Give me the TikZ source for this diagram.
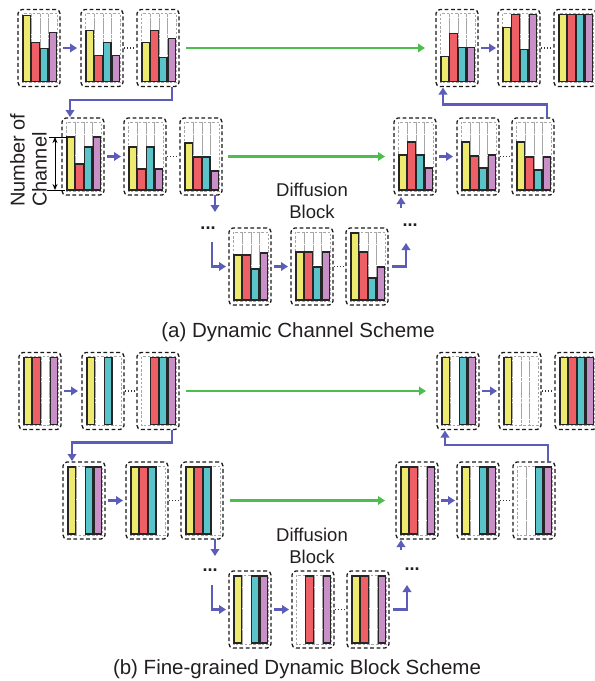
\documentclass[tikz,border=0pt]{standalone}
\usepackage{fontspec}
\setmainfont{Liberation Sans}
\usetikzlibrary{arrows.meta,calc}
\definecolor{cY}{HTML}{EEEA70}
\definecolor{cR}{HTML}{EE6066}
\definecolor{cC}{HTML}{5BC4CB}
\definecolor{cP}{HTML}{C890C6}
\definecolor{cB}{HTML}{5B5DB8}
\definecolor{cG}{HTML}{4DBE4D}
\definecolor{txt}{HTML}{231F20}
\tikzset{
  blkbox/.style={draw=black!90, dash pattern=on 3.8pt off 2.6pt, line width=1.3pt, rounded corners=4pt,
    minimum width=42pt, minimum height=77pt, inner sep=0pt, outer sep=0pt},
  slotst/.style={draw=gray!70, dash pattern=on 2.4pt off 1.8pt, line width=0.8pt},
  barst/.style={draw=black!85, line width=1.1pt},
  barrow/.style={draw=cB, line width=2.8pt, -{Triangle[length=7pt,width=8.5pt]}},
  garrow/.style={draw=cG, line width=2.8pt, -{Triangle[length=7pt,width=8.5pt]}},
  dotconn/.style={draw=black!80, line width=1.1pt, dotted, shorten <=1pt, shorten >=1pt},
  bigdots/.style={font=\fontsize{18}{20}\selectfont\bfseries, text=txt, inner sep=0pt, anchor=base},
  lbl/.style={font=\fontsize{18.5}{22}\selectfont, text=txt, align=center, inner sep=0pt},
  captxt/.style={font=\fontsize{20.5}{24}\selectfont, text=txt, inner sep=0pt, anchor=base},
}
\newcommand\mybar[5]{\ifdim #4pt>0pt \draw[barst,fill=#5] ({#1+#3},{#2+72}) rectangle ({#1+#3+7.6},{#2+72-#4});\fi}
\newcommand\blk[7]{%
  \node[blkbox,anchor=north west] (#1) at (#2,#3) {};
  \foreach \o in {5,13.7,22.4,31.1}{\draw[slotst] ({#2+\o-0.5},{#3+4}) rectangle ({#2+\o+8.2},{#3+73});}
  \mybar{#2}{#3}{5}{#4}{cY}
  \mybar{#2}{#3}{13.7}{#5}{cR}
  \mybar{#2}{#3}{22.4}{#6}{cC}
  \mybar{#2}{#3}{31.1}{#7}{cP}
}
\begin{document}
\begin{tikzpicture}[x=1pt,y=-1pt]
\useasboundingbox (0,0) rectangle (595,681);
% ---------------- (a) ----------------
\blk{a1}{18}{9.5}{66}{39}{33}{49}
\blk{a2}{81}{9.5}{51}{26}{39}{26}
\blk{a3}{137}{9.5}{39}{51}{24}{43}
\blk{a4}{436}{9.5}{25}{48}{34}{34}
\blk{a5}{498}{9.5}{54}{67}{32}{67}
\blk{a6}{554}{9.5}{67}{67}{67}{67}
\blk{a7}{62}{118}{53}{26}{43}{53}
\blk{a8}{124}{118}{43}{21}{43}{21}
\blk{a9}{180}{118}{47}{33}{33}{19}
\blk{a13}{394}{118}{35}{48}{35}{22}
\blk{a14}{457}{118}{48}{34}{22}{35}
\blk{a15}{512}{118}{48}{33}{20}{33}
\blk{a10}{229}{228}{45}{45}{31}{47}
\blk{a11}{291}{228}{48}{48}{33}{48}
\blk{a12}{346}{228}{67}{48}{22}{33}

\draw[barrow, shorten <=3pt, shorten >=4pt] (a1) -- (a2);
\draw[dotconn] (a2) -- (a3);
\draw[garrow, shorten <=7pt, shorten >=11pt] (a3) -- (a4);
\draw[barrow, shorten <=3pt, shorten >=2pt] (a4) -- (a5);
\draw[dotconn] (a5) -- (a6);
\draw[barrow, shorten >=1pt] ($(a3.south west)+(35,0)$) -- ++(0,13.5) -| ($(a7.north west)+(8,0)$);
\draw[barrow, shorten >=1pt] ($(a15.north west)+(35,0)$) -- ++(0,-13.5) -| ($(a4.south west)+(7,0)$);
\draw[barrow, shorten <=3pt, shorten >=3pt] (a7) -- (a8);
\draw[dotconn] (a8) -- (a9);
\draw[garrow, shorten <=6pt, shorten >=9pt] (a9) -- (a13);
\draw[barrow, shorten <=3pt, shorten >=4pt] (a13) -- (a14);
\draw[dotconn] (a14) -- (a15);
\draw[barrow] ($(a9.south west)+(35,0)$) -- ++(0,17);
\node[bigdots] (dA1) at (208,229) {...};
\coordinate (la) at (212,242);
\draw[barrow, shorten >=3pt] (la) |- (a10.west);
\draw[barrow, shorten <=3pt, shorten >=3pt] (a10) -- (a11);
\draw[dotconn] (a11) -- (a12);
\coordinate (ra) at (406,243);
\draw[barrow, shorten <=4pt] (a12.east) -| (ra);
\node[bigdots] (dA2) at (410,226) {...};
\coordinate (ua) at (401,208);
\draw[barrow, shorten >=2pt] (ua) -- (ua |- a13.south);
\node[lbl] (dfa) at (312,201) {Diffusion\\Block};
% number of channel
\coordinate (nc1) at (55,137);
\coordinate (nc2) at (55,190);
\draw[black, line width=0.9pt] (49,137) -- (67,137);
\draw[black, line width=0.9pt] (47,190) -- (65,190);
\draw[black, line width=1pt, {Stealth[length=6pt,width=5pt]}-{Stealth[length=6pt,width=5pt]}] (nc1) -- (nc2);
\node[font=\fontsize{20}{22}\selectfont, text=txt, rotate=90, align=left, inner sep=0pt, anchor=south west] (noc) at (47,207) {Number of\\Channel};
\node[captxt] (capa) at (298,337) {(a) Dynamic Channel Scheme};
% ---------------- (b) ----------------
\blk{b1}{19}{352.5}{67}{67}{0}{67}
\blk{b2}{82}{352.5}{67}{0}{67}{0}
\blk{b3}{137}{352.5}{0}{67}{67}{67}
\blk{b4}{437}{352.5}{67}{0}{67}{67}
\blk{b5}{499}{352.5}{67}{0}{0}{0}
\blk{b6}{555}{352.5}{67}{67}{67}{67}
\blk{b7}{63}{462}{67}{0}{67}{67}
\blk{b8}{126}{462}{67}{67}{67}{0}
\blk{b9}{181}{462}{67}{67}{67}{0}
\blk{b13}{396}{462}{67}{67}{0}{67}
\blk{b14}{457}{462}{67}{0}{67}{67}
\blk{b15}{513}{462}{0}{0}{67}{67}
\blk{b10}{229}{571}{67}{0}{67}{67}
\blk{b11}{292}{571}{0}{67}{0}{67}
\blk{b12}{347}{571}{67}{67}{0}{67}

\draw[barrow, shorten <=3pt, shorten >=4pt] (b1) -- (b2);
\draw[dotconn] (b2) -- (b3);
\draw[garrow, shorten <=7pt, shorten >=11pt] (b3) -- (b4);
\draw[barrow, shorten <=3pt, shorten >=2pt] (b4) -- (b5);
\draw[dotconn] (b5) -- (b6);
\draw[barrow, shorten >=1pt] ($(b3.south west)+(35,0)$) -- ++(0,13) -| ($(b7.north west)+(9,0)$);
\draw[barrow, shorten >=1pt] ($(b15.north west)+(35,0)$) -- ++(0,-17) -| ($(b4.south west)+(8,0)$);
\draw[barrow, shorten <=3pt, shorten >=3pt] (b7) -- (b8);
\draw[dotconn] (b8) -- (b9);
\draw[garrow, shorten <=7pt, shorten >=11pt] (b9) -- (b13);
\draw[barrow, shorten <=3pt, shorten >=2pt] (b13) -- (b14);
\draw[dotconn] (b14) -- (b15);
\draw[barrow] ($(b9.south west)+(34,0)$) -- ++(0,17);
\node[bigdots] (dB1) at (210,571) {...};
\coordinate (lb) at (212,585);
\draw[barrow, shorten >=3pt] (lb) |- (b10.west);
\draw[barrow, shorten <=3pt, shorten >=3pt] (b10) -- (b11);
\draw[dotconn] (b11) -- (b12);
\coordinate (rb) at (407,585);
\draw[barrow, shorten <=4pt] (b12.east) -| (rb);
\node[bigdots] (dB2) at (412,570) {...};
\coordinate (ub) at (401,550);
\draw[barrow, shorten >=1pt] (ub) -- (ub |- b13.south);
\node[lbl] (dfb) at (312,546) {Diffusion\\Block};
\node[captxt] (capb) at (297,674) {(b) Fine-grained Dynamic Block Scheme};
\end{tikzpicture}
\end{document}
